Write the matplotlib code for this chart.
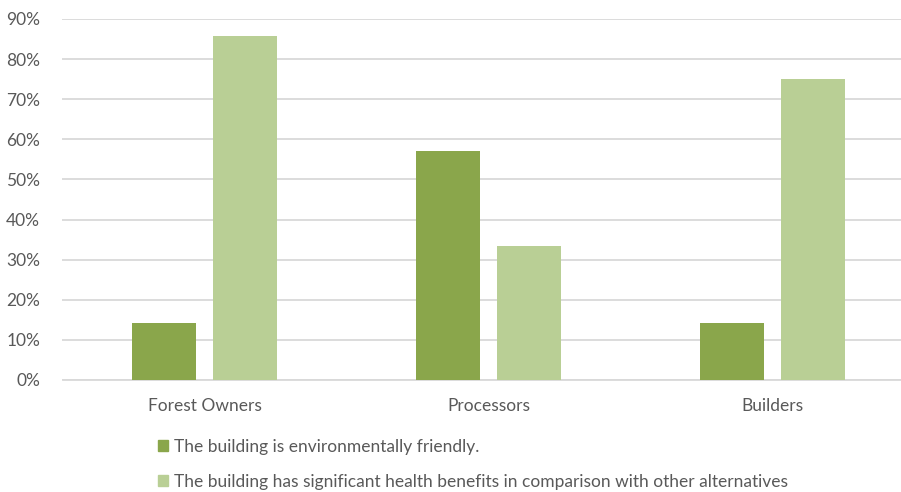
import matplotlib.pyplot as plt
import matplotlib.patches as mpatches
import numpy as np
from matplotlib.ticker import PercentFormatter

plt.rcParams['font.family'] = ['Lato', 'DejaVu Sans']

categories = ["Forest Owners", "Processors", "Builders"]
env_friendly = [0.143, 0.571, 0.143]
health_benefits = [0.857, 0.333, 0.75]
labels = ["The building is environmentally friendly.",
          "The building has significant health benefits in comparison with other alternatives"]

dark = "#8AA64B"
light = "#B9CF95"
text_c = "#595959"
grid_c = "#D9D9D9"

fig = plt.figure(figsize=(9.01, 4.92), dpi=100)
# axes extends past the right edge, as in the cropped original
ax = fig.add_axes([62.5 / 901, 1 - 380 / 492, 852 / 901, 361 / 492])

x = np.arange(len(categories))
w = 0.225
off = 0.1426
ax.bar(x - off, env_friendly, w, color=dark, zorder=3)
ax.bar(x + off, health_benefits, w, color=light, zorder=3)

ax.set_xlim(-0.5, 2.5)
ax.set_ylim(0, 0.9)
ax.set_yticks(np.arange(0, 0.91, 0.1))
ax.yaxis.set_major_formatter(PercentFormatter(1.0, decimals=0))
ax.set_xticks(x)
ax.set_xticklabels(categories)
ax.grid(axis="y", color=grid_c, linewidth=1.3, zorder=0)
for s in ["top", "right", "left"]:
    ax.spines[s].set_visible(False)
ax.spines["bottom"].set_color(grid_c)
ax.spines["bottom"].set_linewidth(1.3)
ax.tick_params(axis="both", length=0, labelsize=12.5, labelcolor=text_c)
ax.tick_params(axis="y", pad=16)
ax.tick_params(axis="x", pad=13)

handles = [mpatches.Patch(color=dark, label=labels[0]),
           mpatches.Patch(color=light, label=labels[1])]
fig.legend(handles=handles, loc="upper left", bbox_to_anchor=(151 / 901, 1 - 432 / 492),
           frameon=False, fontsize=12.5, labelcolor=text_c, handlelength=0.6,
           handleheight=0.6, handletextpad=0.35, labelspacing=1.1, borderaxespad=0)

fig.savefig("out.png", dpi=100)
